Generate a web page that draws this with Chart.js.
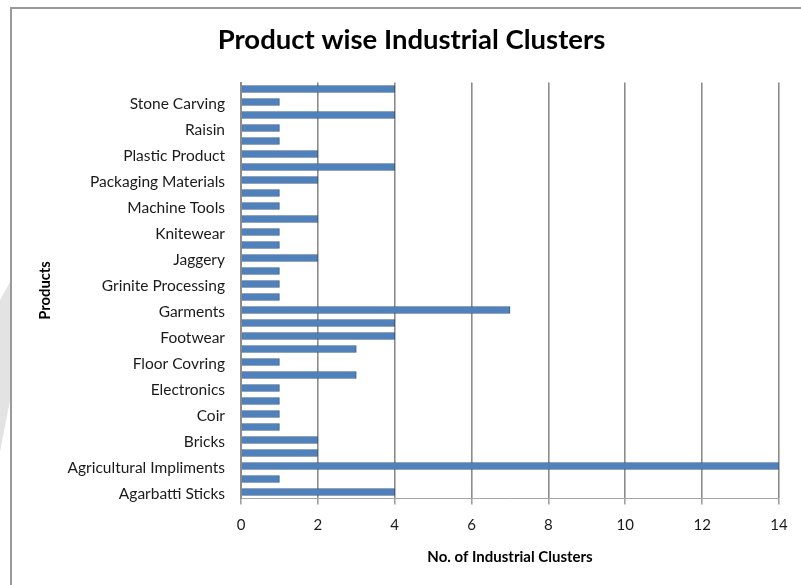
<!DOCTYPE html>
<html>
<head>
<meta charset="utf-8">
<script src="https://cdn.jsdelivr.net/npm/chart.js@4/dist/chart.umd.min.js"></script>
<style>
  html, body { margin: 0; padding: 0; background: #ffffff; }
  #wrap { position: relative; width: 801px; height: 585px; overflow: hidden; }
  #frame { position: absolute; left: 10px; top: 7px; width: 900px; height: 700px;
           border-left: 2px solid #9a9a9a; border-top: 2px solid #9a9a9a; box-sizing: border-box; }
  #shade { position: absolute; left: 0; top: 0; width: 10px; height: 585px; background: #e3e3e3;
           clip-path: polygon(0px 300px, 10px 282px, 10px 400px, 0px 452px); }
  canvas { position: absolute; left: 0; top: 0; }
</style>
</head>
<body>
<div id="wrap">
  <div id="shade"></div>
  <div id="frame"></div>
  <canvas id="c" width="801" height="585"></canvas>
</div>
<script>
// Categories listed bottom-to-top as in the chart; unnamed rows are unlabeled in the source
const categories = [
  'Agarbatti Sticks', '', 'Agricultural Impliments', '', 'Bricks', '', 'Coir', '',
  'Electronics', '', 'Floor Covring', '', 'Footwear', '', 'Garments', '',
  'Grinite Processing', '', 'Jaggery', '', 'Knitewear', '', 'Machine Tools', '',
  'Packaging Materials', '', 'Plastic Product', '', 'Raisin', '', 'Stone Carving', ''
];
const clusterCounts = [
  4, 1, 14, 2, 2, 1, 1, 1,
  1, 3, 1, 3, 4, 4, 7, 1,
  1, 1, 2, 1, 1, 2, 1, 1,
  2, 4, 2, 1, 1, 4, 1, 4
];
const xTicks = [0, 2, 4, 6, 8, 10, 12, 14];

const FONT = 'Lato, "Open Sans", "Liberation Sans", sans-serif';

new Chart(document.getElementById('c'), {
  type: 'bar',
  data: {
    labels: categories,
    datasets: [{
      data: clusterCounts,
      backgroundColor: '#4F81BD',
      borderColor: '#385D8A',
      borderWidth: 1,
      barThickness: 7
    }]
  },
  options: {
    indexAxis: 'y',
    responsive: false,
    animation: false,
    devicePixelRatio: 1,
    layout: { padding: { left: 22, right: 0, top: 0, bottom: 0 } },
    plugins: {
      legend: { display: false },
      tooltip: { enabled: false },
      title: {
        display: true,
        text: 'Product wise Industrial Clusters',
        color: '#000000',
        font: { family: FONT, size: 27.5, weight: 'bold' },
        padding: { top: 23.5, bottom: 26 }
      }
    },
    scales: {
      x: {
        min: xTicks[0],
        max: xTicks[xTicks.length - 1],
        afterBuildTicks: (s) => { s.ticks = xTicks.map(v => ({ value: v })); },
        afterFit: (s) => { s.height = 86.5; s.paddingRight = 22; },
        grid: {
          display: true,
          color: '#8c8c8c',
          lineWidth: 1.6,
          drawTicks: true,
          tickLength: 6,
          tickColor: '#a0a0a0'
        },
        border: { display: true, color: '#a6a6a6', width: 1 },
        ticks: {
          color: '#1a1a1a',
          font: { family: FONT, size: 15 },
          padding: 12
        },
        title: {
          display: true,
          text: 'No. of Industrial Clusters',
          color: '#000000',
          font: { family: FONT, size: 15, weight: 'bold' },
          padding: { top: 0, bottom: 19 }
        }
      },
      y: {
        reverse: true,
        afterFit: (s) => { s.width = 219; },
        grid: { display: false, drawTicks: false },
        border: { display: true, color: '#8c8c8c', width: 2 },
        ticks: {
          autoSkip: false,
          color: '#1a1a1a',
          font: { family: FONT, size: 15.5 },
          padding: 16,
          labelOffset: 2
        },
        title: {
          display: true,
          text: 'Products',
          color: '#000000',
          font: { family: FONT, size: 14.8, weight: 'bold' },
          padding: { top: 14, bottom: 0 }
        }
      }
    }
  }
});
</script>
</body>
</html>
